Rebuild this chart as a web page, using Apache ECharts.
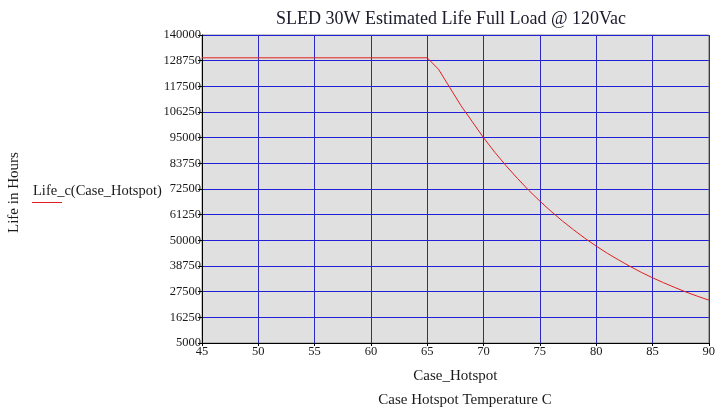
<!DOCTYPE html>
<html>
<head>
<meta charset="utf-8">
<script src="https://cdn.jsdelivr.net/npm/echarts@6/dist/echarts.min.js"></script>
<style>
  html, body { margin: 0; padding: 0; background: #fff; }
  #chart { width: 718px; height: 414px; }
</style>
</head>
<body>
<div id="chart"></div>
<script>
var dom = document.getElementById("chart");
var myChart = echarts.init(dom);

// Case hotspot temperature (C)
var caseHotspot = [45, 50, 55, 60, 65, 66, 67, 68, 69, 70, 71, 72, 73, 74, 75,
                   76, 77, 78, 79, 80, 81, 82, 83, 84, 85, 86, 87, 88, 89, 90];
// Life in hours
var lifeHours = [130000, 130000, 130000, 130000, 130000, 125000, 117000, 109000, 102000, 95000,
                 88600, 82700, 77200, 72000, 67200, 62700, 58500, 54600, 50900, 47500,
                 44300, 41400, 38600, 36000, 33600, 31400, 29300, 27300, 25500, 23800];

var serif = "'Liberation Serif', 'DejaVu Serif', serif";

var option = {
    animation: false,
    backgroundColor: '#ffffff',
    title: {
        text: 'SLED 30W Estimated Life Full Load @ 120Vac',
        left: 446,
        top: 5,
        textAlign: 'center',
        textStyle: {fontFamily: serif, fontSize: 18, fontWeight: 'normal', color: '#1a1a2a'}
    },
    grid: {
        left: 202,
        right: 6,
        top: 35,
        bottom: 71,
        show: true,
        backgroundColor: '#e0e0e0',
        borderColor: '#909090',
        borderWidth: 1
    },
    xAxis: {
        type: 'value',
        min: 45,
        max: 90,
        interval: 5,
        name: 'Case_Hotspot',
        nameLocation: 'middle',
        nameGap: 26,
        nameTextStyle: {fontFamily: serif, fontSize: 15, color: '#1a1a1a'},
        axisLine: {show: true, lineStyle: {color: '#000000', width: 1}},
        axisTick: {show: true, length: 3, lineStyle: {color: '#000'}},
        axisLabel: {fontFamily: serif, fontSize: 12.5, color: '#1a1a1a', margin: 2},
        splitLine: {show: true, lineStyle: {color: '#2a2ac0', width: 1}}
    },
    yAxis: {
        type: 'value',
        min: 5000,
        max: 140000,
        interval: 11250,
        axisLine: {show: true, lineStyle: {color: '#000000', width: 1}},
        axisTick: {show: true, length: 4, lineStyle: {color: '#000'}},
        axisLabel: {
            fontFamily: serif, fontSize: 12.5, color: '#1a1a1a', margin: 1,
            formatter: function (v) { return String(v); }
        },
        splitLine: {show: true, lineStyle: {color: '#2020d8', width: 1}}
    },
    graphic: [
        {
            type: 'text',
            rotation: Math.PI / 2,
            style: {text: 'Life in Hours', fontFamily: serif, fontSize: 15, fill: '#1a1a1a'},
            x: 7, y: 233
        },
        {
            type: 'text',
            x: 33, y: 184,
            style: {text: 'Life_c(Case_Hotspot)', fontFamily: serif, fontSize: 14.5, fill: '#1a1a1a'}
        },
        {
            type: 'line',
            shape: {x1: 32, y1: 202.5, x2: 62, y2: 202.5},
            style: {stroke: '#e02020', lineWidth: 1}
        },
        {
            type: 'text',
            x: 465, y: 393,
            style: {text: 'Case Hotspot Temperature C', fontFamily: serif, fontSize: 15, fill: '#1a1a1a', align: 'center'}
        }
    ],
    series: [{
        name: 'Life_c',
        type: 'line',
        showSymbol: false,
        silent: true,
        data: caseHotspot.map(function (t, i) { return [t, lifeHours[i]]; }),
        lineStyle: {color: '#e02020', width: 1}
    }]
};

myChart.setOption(option, true);
</script>
</body>
</html>
